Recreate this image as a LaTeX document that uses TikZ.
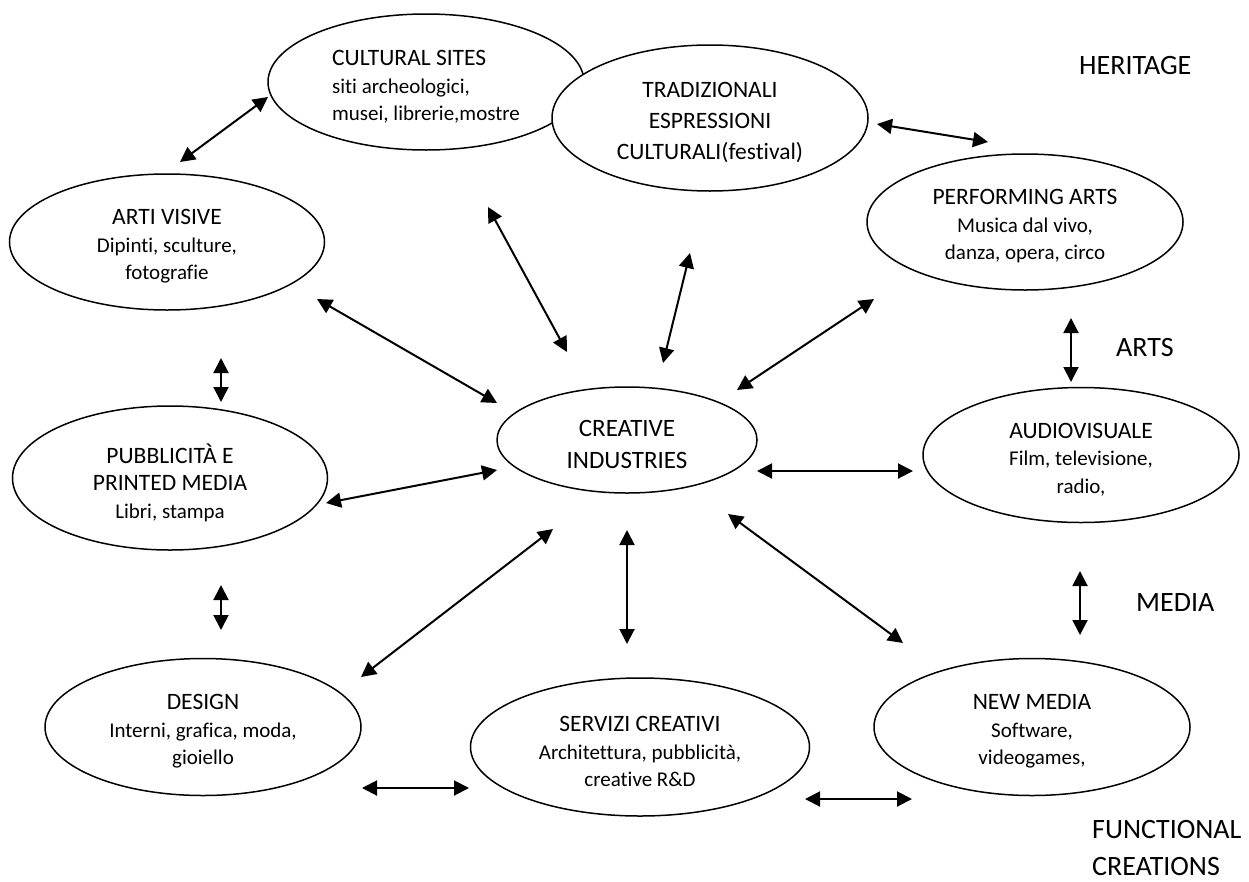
\documentclass[tikz,border=0pt]{standalone}
\usepackage{fontspec}
\setmainfont{Carlito}[Ligatures=NoCommon]
\usetikzlibrary{arrows.meta,shapes.geometric}
\newcommand\subsize{\fontsize{21pt}{27.5pt}\selectfont}
\newcommand\titlesize{\fontsize{23.5pt}{27.5pt}\selectfont}
\newcommand\tagsize{\fontsize{28pt}{34pt}\selectfont}
\begin{document}
\begin{tikzpicture}[x=1pt,y=-1pt,
  oval/.style={draw=black, line width=1.5pt, ellipse, fill=white, inner sep=0pt},
  txt/.style={inner sep=0pt, align=center, font=\subsize},
  link/.style={line width=2pt,
               {Triangle[length=15pt,width=15pt]}-{Triangle[length=15pt,width=15pt]}},
  tag/.style={font=\tagsize, inner sep=0pt, anchor=west}]

% canvas
\fill[white] (0,0) rectangle (1249,881);
\useasboundingbox (0,0) rectangle (1249,881);

% sector ellipses
\node[oval, minimum width=316pt, minimum height=136pt] (cult) at (426,82) {};
\node[oval, minimum width=316pt, minimum height=146pt] (trad) at (710,118) {};
\node[oval, minimum width=315pt, minimum height=136pt] (arti) at (167,242) {};
\node[oval, minimum width=315pt, minimum height=144pt] (pubb) at (170,478) {};
\node[oval, minimum width=316pt, minimum height=136pt] (perf) at (1025,222) {};
\node[oval, minimum width=316pt, minimum height=135pt] (audio) at (1081,455) {};
\node[oval, minimum width=260pt, minimum height=106pt] (crea) at (627,440) {};
\node[oval, minimum width=316pt, minimum height=137pt] (design) at (203,727) {};
\node[oval, minimum width=339pt, minimum height=138pt] (serv) at (640,747) {};
\node[oval, minimum width=316pt, minimum height=137pt] (newm) at (1032,727) {};

% texts inside the ellipses
\path (cult) ++(0,5) node[txt, align=left] (cultT)
  {{\titlesize CULTURAL SITES}\\siti archeologici,\\musei, librerie,mostre};
\path (trad) ++(0,5) node[txt, font=\fontsize{23.5pt}{31pt}\selectfont] (tradT)
  {TRADIZIONALI\\ESPRESSIONI\\CULTURALI(festival)};
\path (arti) ++(0,4.5) node[txt] (artiT)
  {{\titlesize ARTI VISIVE}\\Dipinti, sculture,\\fotografie};
\path (pubb) ++(0,4.5) node[txt] (pubbT)
  {{\titlesize PUBBLICITÀ E}\\{\titlesize PRINTED MEDIA}\\Libri, stampa};
\path (perf) ++(0,4.5) node[txt] (perfT)
  {{\titlesize PERFORMING ARTS}\\Musica dal vivo,\\danza, opera, circo};
\path (audio) ++(0,4.5) node[txt] (audioT)
  {{\titlesize AUDIOVISUALE}\\Film, televisione,\\radio,};
\path (crea) ++(0,4) node[txt, font=\fontsize{25pt}{32pt}\selectfont] (creaT)
  {CREATIVE\\INDUSTRIES};
\path (design) ++(0,4.5) node[txt] (designT)
  {{\titlesize DESIGN}\\Interni, grafica, moda,\\gioiello};
\path (serv) ++(0,4.5) node[txt] (servT)
  {{\titlesize SERVIZI CREATIVI}\\Architettura, pubblicità,\\creative R\&D};
\path (newm) ++(0,4.5) node[txt] (newmT)
  {{\titlesize NEW MEDIA}\\Software,\\videogames,};

% group labels
\node[tag] (heritage) at (1079,66) {HERITAGE};
\node[tag] (arts) at (1116,348) {ARTS};
\node[tag] (media) at (1136,603) {MEDIA};
\node[tag] (functional) at (1092,830) {FUNCTIONAL};
\node[tag] (creations) at (1092,866) {CREATIONS};

% arrow end points
\coordinate (cultA) at (268,97);   \coordinate (artiA) at (180,162);
\coordinate (artiB) at (317,299);  \coordinate (creaA) at (497,403);
\coordinate (cultB) at (488,207);  \coordinate (creaB) at (567,352);
\coordinate (tradA) at (690,253);  \coordinate (creaC) at (663,363);
\coordinate (tradB) at (877,124);  \coordinate (perfA) at (988,142);
\coordinate (perfB) at (874,299);  \coordinate (creaD) at (737,390);
\coordinate (artiC) at (221,358);  \coordinate (pubbA) at (221,402);
\coordinate (pubbB) at (326,503);  \coordinate (creaE) at (497,470);
\coordinate (creaF) at (757,471);  \coordinate (audioA) at (913,471);
\coordinate (perfC) at (1071,318); \coordinate (audioB) at (1071,382);
\coordinate (pubbC) at (221,585);  \coordinate (designA) at (221,630);
\coordinate (creaG) at (553,529);  \coordinate (designB) at (361,677);
\coordinate (creaH) at (627,530);  \coordinate (servA) at (627,644);
\coordinate (creaI) at (728,514);  \coordinate (newmA) at (903,643);
\coordinate (audioC) at (1080,571); \coordinate (newmB) at (1080,635);
\coordinate (designC) at (362,788); \coordinate (servB) at (469,788);
\coordinate (servC) at (805,799);  \coordinate (newmC) at (912,799);

% connectors
\draw[link] (artiA) -- (cultA);
\draw[link] (artiB) -- (creaA);
\draw[link] (cultB) -- (creaB);
\draw[link] (tradA) -- (creaC);
\draw[link] (tradB) -- (perfA);
\draw[link] (perfB) -- (creaD);
\draw[link] (artiC) -- (pubbA);
\draw[link] (pubbB) -- (creaE);
\draw[link] (creaF) -- (audioA);
\draw[link] (perfC) -- (audioB);
\draw[link] (pubbC) -- (designA);
\draw[link] (creaG) -- (designB);
\draw[link] (creaH) -- (servA);
\draw[link] (creaI) -- (newmA);
\draw[link] (audioC) -- (newmB);
\draw[link] (designC) -- (servB);
\draw[link] (servC) -- (newmC);
\end{tikzpicture}
\end{document}
